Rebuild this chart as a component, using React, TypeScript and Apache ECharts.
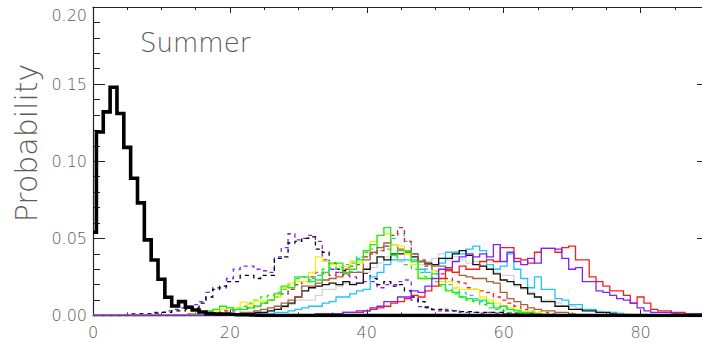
import React, { useEffect, useRef } from "react";
import * as echarts from "echarts";

// Probability histograms (bin width 1), value at each integer bin from its start bin.
const observedStart = 0;
const observed = [0.054, 0.119, 0.132, 0.148, 0.131, 0.109, 0.089, 0.073, 0.049, 0.036, 0.0235, 0.0118, 0.0062, 0.009, 0.0053, 0.0036, 0.0023, 0.0012, 0.001, 0.001, 0.0008, 0.0005, 0.0005, 0.0003, 0.0002];

const purpleDashStart = 7;
const purpleDash = [0.001, 0.001, 0.002, 0.002, 0.003, 0.004, 0.005, 0.006, 0.007, 0.009, 0.015, 0.018, 0.018, 0.024, 0.03, 0.032, 0.032, 0.03, 0.029, 0.028, 0.038, 0.044, 0.053, 0.049, 0.05, 0.052, 0.048, 0.036, 0.03, 0.028, 0.026, 0.025, 0.021, 0.022, 0.022, 0.018, 0.02, 0.02, 0.022, 0.023, 0.01, 0.0057, 0.005, 0.0036, 0.003, 0.004, 0.003, 0.002, 0.002, 0.002, 0.0015, 0.002, 0.0015, 0.001, 0.001, 0.001, 0.001, 0.0008, 0.0008, 0.0005, 0.0005];

const blackDashStart = 5;
const blackDash = [0.0005, 0.001, 0.001, 0.001, 0.0015, 0.002, 0.002, 0.003, 0.003, 0.004, 0.005, 0.008, 0.012, 0.017, 0.019, 0.022, 0.022, 0.026, 0.026, 0.024, 0.026, 0.026, 0.037, 0.038, 0.047, 0.048, 0.05, 0.051, 0.043, 0.041, 0.034, 0.03, 0.029, 0.028, 0.028, 0.0275, 0.024, 0.02, 0.022, 0.019, 0.02, 0.016, 0.012, 0.009, 0.0055, 0.004, 0.004, 0.003, 0.003, 0.0025, 0.0025, 0.002, 0.002, 0.002, 0.002, 0.002, 0.0015, 0.0015, 0.001, 0.001, 0.001, 0.0008, 0.0005, 0.0005];

const redDashStart = 14;
const redDash = [0.001, 0.001, 0.002, 0.002, 0.002, 0.003, 0.003, 0.004, 0.004, 0.005, 0.006, 0.008, 0.01, 0.012, 0.014, 0.017, 0.02, 0.022, 0.025, 0.028, 0.027, 0.026, 0.028, 0.03, 0.032, 0.033, 0.038, 0.04, 0.042, 0.045, 0.052, 0.057, 0.048, 0.04, 0.036, 0.032, 0.029, 0.027, 0.024, 0.022, 0.021, 0.018, 0.017, 0.016, 0.015, 0.012, 0.01, 0.008, 0.006, 0.004, 0.003, 0.002, 0.002, 0.001];

const cyanDashStart = 17;
const cyanDash = [0.001, 0.001, 0.002, 0.002, 0.003, 0.004, 0.005, 0.006, 0.008, 0.01, 0.012, 0.014, 0.017, 0.02, 0.022, 0.024, 0.026, 0.028, 0.03, 0.031, 0.033, 0.035, 0.037, 0.038, 0.04, 0.042, 0.045, 0.05, 0.053, 0.048, 0.04, 0.035, 0.03, 0.027, 0.024, 0.02, 0.018, 0.015, 0.013, 0.011, 0.009, 0.008, 0.006, 0.005, 0.004, 0.003, 0.002, 0.002, 0.001];

const greenDashStart = 15;
const greenDash = [0.001, 0.001, 0.002, 0.002, 0.003, 0.004, 0.005, 0.006, 0.008, 0.01, 0.012, 0.013, 0.015, 0.017, 0.02, 0.024, 0.025, 0.023, 0.026, 0.03, 0.031, 0.03, 0.031, 0.034, 0.038, 0.041, 0.043, 0.045, 0.043, 0.038, 0.035, 0.033, 0.03, 0.028, 0.025, 0.022, 0.019, 0.017, 0.014, 0.012, 0.01, 0.009, 0.007, 0.005, 0.004, 0.003, 0.002, 0.002, 0.001];

const yellowStart = 15;
const yellow = [0.001, 0.002, 0.002, 0.003, 0.004, 0.005, 0.005, 0.0087, 0.007, 0.0094, 0.0094, 0.01, 0.012, 0.018, 0.021, 0.022, 0.022, 0.028, 0.038, 0.035, 0.033, 0.032, 0.032, 0.035, 0.034, 0.042, 0.048, 0.052, 0.053, 0.046, 0.045, 0.04, 0.033, 0.024, 0.024, 0.029, 0.022, 0.022, 0.018, 0.017, 0.017, 0.017, 0.012, 0.01, 0.008, 0.006, 0.005, 0.004, 0.003, 0.003, 0.002, 0.001];

const greenStart = 15;
const green = [0.001, 0.002, 0.003, 0.004, 0.006, 0.005, 0.004, 0.004, 0.005, 0.006, 0.008, 0.01, 0.014, 0.019, 0.018, 0.025, 0.025, 0.022, 0.023, 0.028, 0.034, 0.034, 0.028, 0.03, 0.036, 0.042, 0.046, 0.052, 0.057, 0.039, 0.042, 0.042, 0.035, 0.024, 0.024, 0.027, 0.02, 0.016, 0.015, 0.012, 0.011, 0.01, 0.01, 0.008, 0.005, 0.006, 0.004, 0.003, 0.002, 0.002, 0.001];

const brownStart = 20;
const brown = [0.001, 0.001, 0.002, 0.002, 0.003, 0.004, 0.005, 0.006, 0.008, 0.01, 0.012, 0.019, 0.019, 0.021, 0.023, 0.024, 0.025, 0.027, 0.028, 0.028, 0.036, 0.041, 0.044, 0.047, 0.046, 0.043, 0.041, 0.04, 0.035, 0.033, 0.032, 0.032, 0.029, 0.028, 0.026, 0.025, 0.024, 0.024, 0.022, 0.021, 0.015, 0.011, 0.009, 0.007, 0.005, 0.004, 0.003, 0.003, 0.002, 0.002, 0.001];

const grayStart = 23;
const gray = [0.001, 0.002, 0.002, 0.003, 0.004, 0.005, 0.007, 0.01, 0.01, 0.01, 0.013, 0.017, 0.017, 0.019, 0.021, 0.021, 0.021, 0.028, 0.031, 0.034, 0.038, 0.036, 0.035, 0.04, 0.038, 0.033, 0.035, 0.037, 0.04, 0.036, 0.038, 0.036, 0.034, 0.035, 0.032, 0.03, 0.028, 0.026, 0.026, 0.019, 0.017, 0.015, 0.012, 0.01, 0.01, 0.008, 0.006, 0.006, 0.005, 0.004, 0.003, 0.003, 0.002, 0.002, 0.002, 0.001];

const blackStart = 20;
const black = [0.001, 0.001, 0.001, 0.001, 0.002, 0.002, 0.003, 0.004, 0.006, 0.008, 0.012, 0.016, 0.018, 0.019, 0.02, 0.021, 0.02, 0.022, 0.02, 0.021, 0.03, 0.034, 0.038, 0.036, 0.04, 0.04, 0.042, 0.038, 0.035, 0.034, 0.033, 0.037, 0.037, 0.04, 0.042, 0.039, 0.033, 0.032, 0.03, 0.027, 0.023, 0.022, 0.02, 0.018, 0.014, 0.012, 0.009, 0.009, 0.006, 0.006, 0.004, 0.004, 0.003, 0.003, 0.002, 0.002, 0.001];

const cyanStart = 24;
const cyan = [0.001, 0.001, 0.001, 0.002, 0.002, 0.003, 0.004, 0.005, 0.006, 0.006, 0.008, 0.009, 0.012, 0.012, 0.014, 0.016, 0.017, 0.025, 0.028, 0.033, 0.036, 0.036, 0.036, 0.036, 0.03, 0.028, 0.033, 0.034, 0.041, 0.041, 0.04, 0.043, 0.045, 0.042, 0.033, 0.03, 0.032, 0.04, 0.03, 0.024, 0.018, 0.025, 0.017, 0.017, 0.011, 0.01, 0.007, 0.007, 0.004, 0.004, 0.002, 0.002, 0.002, 0.001];

const redStart = 33;
const red = [0.001, 0.001, 0.001, 0.001, 0.002, 0.002, 0.002, 0.003, 0.004, 0.005, 0.006, 0.008, 0.009, 0.011, 0.013, 0.012, 0.016, 0.019, 0.024, 0.03, 0.028, 0.032, 0.03, 0.03, 0.035, 0.036, 0.035, 0.044, 0.044, 0.037, 0.036, 0.034, 0.041, 0.0435, 0.0435, 0.041, 0.044, 0.045, 0.036, 0.036, 0.025, 0.022, 0.019, 0.016, 0.016, 0.013, 0.008, 0.012, 0.008, 0.004, 0.003, 0.003, 0.002, 0.002, 0.001, 0.001, 0.001];

const purpleStart = 33;
const purple = [0.001, 0.001, 0.001, 0.001, 0.002, 0.002, 0.003, 0.003, 0.005, 0.006, 0.009, 0.009, 0.012, 0.012, 0.016, 0.015, 0.019, 0.024, 0.03, 0.031, 0.035, 0.038, 0.04, 0.038, 0.04, 0.038, 0.046, 0.035, 0.041, 0.035, 0.033, 0.037, 0.034, 0.0435, 0.0435, 0.043, 0.037, 0.03, 0.031, 0.022, 0.022, 0.016, 0.015, 0.013, 0.011, 0.01, 0.008, 0.005, 0.003, 0.002, 0.002, 0.002, 0.0015, 0.001, 0.001, 0.001, 0.001];

const binCount = 90;
const xTicks = [0, 20, 40, 60, 80];
const yTicks = [0, 0.05, 0.1, 0.15, 0.2];

const toPoints = (start: number, values: number[]) => {
  const pts: [number, number][] = [];
  for (let i = 0; i < binCount; i++) {
    const k = i - start;
    pts.push([i, k >= 0 && k < values.length ? values[k] : 0]);
  }
  return pts;
};

const SERIES = [
  { name: "purple dashed", start: purpleDashStart, values: purpleDash, color: "#7f22ff", dashed: true, width: 1.3 },
  { name: "black dashed", start: blackDashStart, values: blackDash, color: "#000000", dashed: true, width: 1.3 },
  { name: "green dashed", start: greenDashStart, values: greenDash, color: "#18f018", dashed: true, width: 1.3 },
  { name: "cyan dashed", start: cyanDashStart, values: cyanDash, color: "#1ec4ff", dashed: true, width: 1.3 },
  { name: "red dashed", start: redDashStart, values: redDash, color: "#ff1a1a", dashed: true, width: 1.3 },
  { name: "gray", start: grayStart, values: gray, color: "#d4d4d4", dashed: false, width: 1.3 },
  { name: "cyan", start: cyanStart, values: cyan, color: "#1ec4ff", dashed: false, width: 1.3 },
  { name: "black", start: blackStart, values: black, color: "#111111", dashed: false, width: 1.3 },
  { name: "brown", start: brownStart, values: brown, color: "#a5623a", dashed: false, width: 1.3 },
  { name: "yellow", start: yellowStart, values: yellow, color: "#f2f200", dashed: false, width: 1.3 },
  { name: "green", start: greenStart, values: green, color: "#18f018", dashed: false, width: 1.3 },
  { name: "red", start: redStart, values: red, color: "#ff1a1a", dashed: false, width: 1.3 },
  { name: "purple", start: purpleStart, values: purple, color: "#7f22ff", dashed: false, width: 1.3 },
  { name: "observed", start: observedStart, values: observed, color: "#000000", dashed: false, width: 3.6 },
];

const FONT = "'DejaVu Sans', 'Open Sans', sans-serif";
const TEXT_COLOR = "#5c5c5c";

export default function App() {
  const ref = useRef<HTMLDivElement>(null);

  useEffect(() => {
    document.body.style.margin = "0";
    const chart = echarts.init(ref.current!, null, { renderer: "svg" });

    const axisLine = { show: true, onZero: false, lineStyle: { color: "#222", width: 1.2 } };
    const xTick = { show: true, inside: true, length: 6, lineStyle: { color: "#222" } };
    const xMinor = { show: true, splitNumber: 4, length: 3, lineStyle: { color: "#222" } };
    const yTick = { show: true, inside: true, length: 12, lineStyle: { color: "#222" } };
    const yMinor = { show: true, splitNumber: 5, length: 7, lineStyle: { color: "#222" } };

    chart.setOption({
      animation: false,
      backgroundColor: "#ffffff",
      grid: {
        left: 93,
        top: 7,
        width: 616,
        height: 308.5,
        containLabel: false,
        outerBoundsMode: "none",
      },
      xAxis: [
        {
          type: "value",
          min: 0,
          max: 90,
          interval: 20,
          position: "bottom",
          axisLine,
          axisTick: xTick,
          minorTick: xMinor,
          splitLine: { show: false },
          axisLabel: {
            margin: 9,
            fontFamily: FONT,
            fontWeight: 200,
            fontSize: 16,
            color: TEXT_COLOR,
            formatter: (v: number) => (xTicks.includes(v) ? String(v) : ""),
          },
        },
        {
          type: "value",
          min: 0,
          max: 90,
          interval: 20,
          position: "top",
          axisLine,
          axisTick: xTick,
          minorTick: xMinor,
          splitLine: { show: false },
          axisLabel: { show: false },
        },
      ],
      yAxis: [
        {
          type: "value",
          min: 0,
          max: 0.2,
          interval: 0.05,
          position: "left",
          axisLine,
          axisTick: yTick,
          minorTick: yMinor,
          splitLine: { show: false },
          axisLabel: {
            margin: 6,
            align: "right",
            verticalAlignMaxLabel: "top",
            fontFamily: FONT,
            fontWeight: 200,
            fontSize: 16,
            color: TEXT_COLOR,
            formatter: (v: number) => {
              const hit = yTicks.find((t) => Math.abs(t - v) < 1e-9);
              return hit === undefined ? "" : hit.toFixed(2);
            },
          },
        },
        {
          type: "value",
          min: 0,
          max: 0.2,
          interval: 0.05,
          position: "right",
          axisLine,
          axisTick: yTick,
          minorTick: yMinor,
          splitLine: { show: false },
          axisLabel: { show: false },
        },
      ],
      graphic: [
        {
          type: "text",
          x: 26,
          y: 143,
          rotation: Math.PI / 2,
          style: {
            text: "Probability",
            fontFamily: FONT,
            fontWeight: 200,
            fontSize: 30,
            fill: TEXT_COLOR,
            align: "center",
            verticalAlign: "middle",
          },
        },
        {
          type: "text",
          x: 140,
          y: 43,
          style: {
            text: "Summer",
            fontFamily: FONT,
            fontWeight: 200,
            fontSize: 26,
            fill: TEXT_COLOR,
            align: "left",
            verticalAlign: "middle",
          },
        },
      ],
      series: SERIES.map((s) => ({
        name: s.name,
        type: "line",
        step: "middle",
        xAxisIndex: 0,
        yAxisIndex: 0,
        showSymbol: false,
        symbol: "none",
        silent: true,
        clip: true,
        data: toPoints(s.start, s.values),
        lineStyle: {
          color: s.color,
          width: s.width,
          type: s.dashed ? [4, 4] : "solid",
          cap: "butt",
          join: "miter",
        },
      })),
    });

    return () => chart.dispose();
  }, []);

  return <div ref={ref} style={{ width: 702, height: 343 }} />;
}
